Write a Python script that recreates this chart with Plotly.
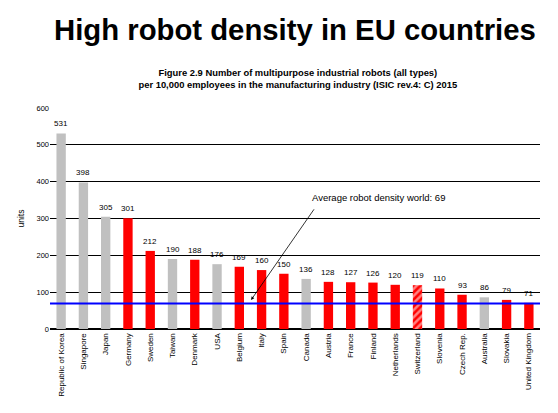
import plotly.graph_objects as go

countries = [
    "Republic of Korea", "Singapore", "Japan", "Germany", "Sweden", "Taiwan",
    "Denmark", "USA", "Belgium", "Italy", "Spain", "Canada", "Austria",
    "France", "Finland", "Netherlands", "Switzerland", "Slovenia",
    "Czech Rep.", "Australia", "Slovakia", "United Kingdom",
]
robots = [531, 398, 305, 301, 212, 190, 188, 176, 169, 160, 150, 136, 128,
          127, 126, 120, 119, 110, 93, 86, 79, 71]
is_eu = [False, False, False, True, True, False, True, False, True, True,
         True, False, True, True, True, True, False, True, True, False, True, True]
world_avg = 69

GRAY = "#C0C0C0"
RED = "#FF0000"
FONT = "Liberation Sans, Arial, sans-serif"

colors = [RED if eu or c == "Switzerland" else GRAY for c, eu in zip(countries, is_eu)]
shapes = ["/" if c == "Switzerland" else "" for c in countries]

fig = go.Figure()
fig.add_trace(go.Bar(
    x=countries,
    y=robots,
    width=0.42,
    marker=dict(
        color=colors,
        line=dict(width=0),
        pattern=dict(shape=shapes, fgcolor=RED, bgcolor="white", solidity=0.5, size=5),
    ),
    showlegend=False,
))

# value labels above the bars
for c, v in zip(countries, robots):
    fig.add_annotation(
        x=c, y=v, xref="x", yref="y", yanchor="bottom", yshift=3,
        text=str(v), showarrow=False,
        font=dict(size=8, color="black", family=FONT),
    )

# world average line
fig.add_shape(type="line", xref="paper", x0=0, x1=1, yref="y",
              y0=world_avg, y1=world_avg, line=dict(color="#0000FF", width=2))

fig.add_annotation(
    x=8.53, y=79, ax=11.4, ay=329, xref="x", yref="y", axref="x", ayref="y",
    text="", showarrow=True, arrowhead=2, arrowsize=0.8, arrowwidth=0.8,
    arrowcolor="black",
)
fig.add_annotation(
    x=11.17, y=356, xref="x", yref="y", xanchor="left", yanchor="middle",
    text=f"Average robot density world: {world_avg}", showarrow=False,
    font=dict(size=9.5, color="black", family=FONT),
)

# slide headline
fig.add_annotation(
    x=0.5, y=1.0 + 97 / 221, xref="paper", yref="paper",
    yanchor="top", xanchor="center",
    text="<b>High robot density in EU countries</b>", showarrow=False,
    font=dict(size=29.3, color="black", family=FONT),
)

fig.update_layout(
    width=550, height=405,
    margin=dict(l=42, r=18, t=100, b=84),
    paper_bgcolor="white", plot_bgcolor="white",
    font=dict(family=FONT, color="black", size=8),
    title=dict(
        text="<b>Figure 2.9 Number of multipurpose industrial robots (all types)<br>"
             "per 10,000 employees in the manufacturing industry (ISIC rev.4: C) 2015</b>",
        x=0.527, xanchor="center", y=0.832, yanchor="middle",
        font=dict(size=9.4, family=FONT, color="black"),
    ),
    yaxis=dict(
        range=[0, 600], dtick=100, showgrid=True, gridcolor="black", gridwidth=1,
        zeroline=True, zerolinecolor="black", showline=False,
        tickfont=dict(size=7.5), ticks="", automargin=False,
        title=dict(text="units", font=dict(size=8.5), standoff=10),
    ),
    xaxis=dict(
        range=[-0.5, len(countries) - 0.5],
        tickangle=-90, tickfont=dict(size=8), showline=True, linecolor="black",
        ticks="", showgrid=False, automargin=False,
    ),
)

fig.write_html("out.html")
